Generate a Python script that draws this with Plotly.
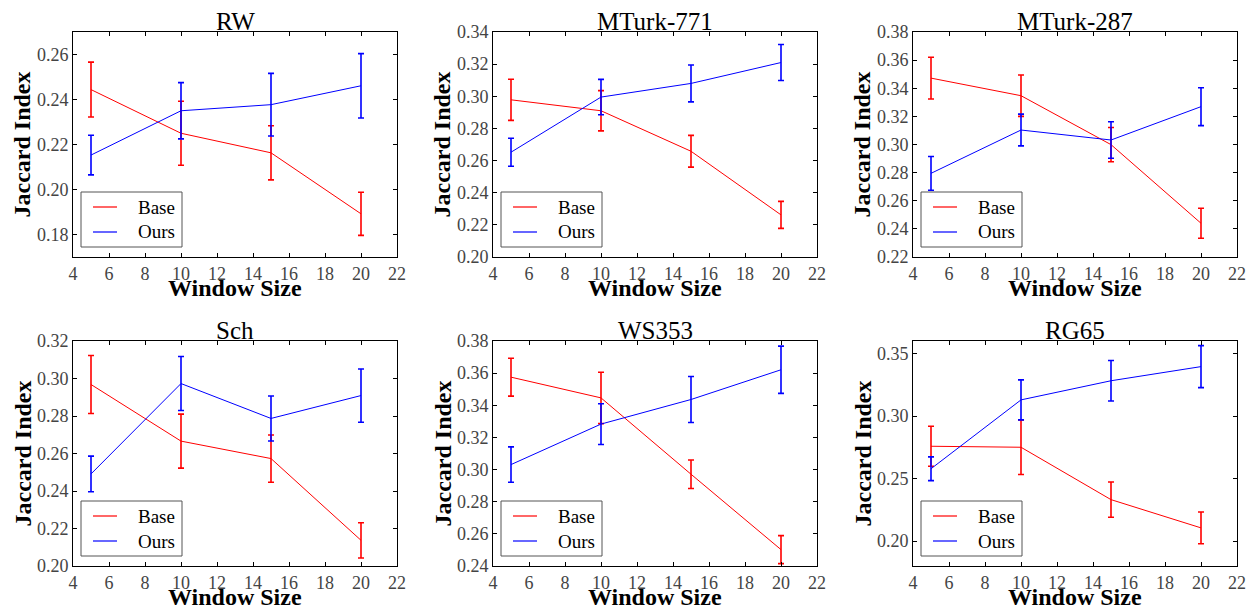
import plotly.graph_objects as go

# ---------------- data ----------------
window_sizes = [5, 10, 15, 20]

titles = ["RW", "MTurk-771", "MTurk-287", "Sch", "WS353", "RG65"]
series_names = ["Base", "Ours"]
series_colors = ["red", "blue"]

rw_base = [0.2444, 0.2250, 0.2163, 0.1892]
rw_base_err = [0.0122, 0.0142, 0.0120, 0.0096]
rw_ours = [0.2153, 0.2350, 0.2377, 0.2461]
rw_ours_err = [0.0088, 0.0125, 0.0139, 0.0143]

mt771_base = [0.2978, 0.2910, 0.2658, 0.2262]
mt771_base_err = [0.0128, 0.0125, 0.0099, 0.0084]
mt771_ours = [0.2652, 0.2995, 0.3080, 0.3210]
mt771_ours_err = [0.0087, 0.0110, 0.0115, 0.0112]

mt287_base = [0.3472, 0.3347, 0.2999, 0.2440]
mt287_base_err = [0.0148, 0.0147, 0.0122, 0.0107]
mt287_ours = [0.2795, 0.3103, 0.3032, 0.3269]
mt287_ours_err = [0.0120, 0.0113, 0.0130, 0.0135]

sch_base = [0.2968, 0.2666, 0.2573, 0.2137]
sch_base_err = [0.0155, 0.0144, 0.0126, 0.0094]
sch_ours = [0.2491, 0.2973, 0.2787, 0.2909]
sch_ours_err = [0.0095, 0.0144, 0.0120, 0.0142]

ws353_base = [0.3575, 0.3446, 0.2971, 0.2502]
ws353_base_err = [0.0118, 0.0160, 0.0089, 0.0087]
ws353_ours = [0.3031, 0.3283, 0.3436, 0.3621]
ws353_ours_err = [0.0110, 0.0127, 0.0143, 0.0147]

rg65_base = [0.2758, 0.2750, 0.2331, 0.2105]
rg65_base_err = [0.0160, 0.0218, 0.0141, 0.0127]
rg65_ours = [0.2578, 0.3129, 0.3282, 0.3395]
rg65_ours_err = [0.0095, 0.0160, 0.0162, 0.0168]

base_series = [rw_base, mt771_base, mt287_base, sch_base, ws353_base, rg65_base]
base_errs = [rw_base_err, mt771_base_err, mt287_base_err, sch_base_err, ws353_base_err, rg65_base_err]
ours_series = [rw_ours, mt771_ours, mt287_ours, sch_ours, ws353_ours, rg65_ours]
ours_errs = [rw_ours_err, mt771_ours_err, mt287_ours_err, sch_ours_err, ws353_ours_err, rg65_ours_err]

y_ranges = [[0.17, 0.27], [0.20, 0.34], [0.22, 0.38], [0.20, 0.32], [0.24, 0.38], [0.18, 0.36]]
y_dticks = [0.02, 0.02, 0.02, 0.02, 0.02, 0.05]

# ---------------- layout geometry (pixels) ----------------
W, H = 1249, 610
col_px = [(73, 397), (493, 817), (913, 1237)]
row_px = [(32, 257), (341, 566)]

FONT = "Liberation Serif, Times New Roman, serif"

fig = go.Figure()
layout = dict(
    template="none",
    width=W, height=H,
    margin=dict(l=0, r=0, t=0, b=0, pad=0, autoexpand=False),
    paper_bgcolor="white", plot_bgcolor="white",
    font=dict(family=FONT, color="black"),
    showlegend=False,
    annotations=[],
    shapes=[],
)


def px_x(v):
    return v / W


def px_y(v):
    return 1 - v / H


for i in range(6):
    r, c = divmod(i, 3)
    x0, x1 = col_px[c]
    y0, y1 = row_px[r]
    sfx = "" if i == 0 else str(i + 1)
    xa, ya = "x" + sfx, "y" + sfx

    for name, color, ys, errs in (
        (series_names[0], series_colors[0], base_series[i], base_errs[i]),
        (series_names[1], series_colors[1], ours_series[i], ours_errs[i]),
    ):
        fig.add_trace(go.Scatter(
            x=window_sizes, y=ys, mode="lines", name=name,
            line=dict(color=color, width=1),
            error_y=dict(type="data", array=errs, color=color, thickness=1.6, width=3),
            xaxis=xa, yaxis=ya,
        ))

    axis_common = dict(
        showline=True, linecolor="black", linewidth=1, mirror="allticks",
        ticks="inside", ticklen=4, tickcolor="black", tickwidth=1,
        showgrid=False, zeroline=False, automargin=False,
        tickfont=dict(family=FONT, size=18, color="#444444"),
    )
    layout["xaxis" + sfx] = dict(
        axis_common, domain=[px_x(x0), px_x(x1)], range=[4, 22], dtick=2, tick0=0,
        anchor=ya,
    )
    layout["yaxis" + sfx] = dict(
        axis_common, domain=[px_y(y1), px_y(y0)], range=y_ranges[i],
        dtick=y_dticks[i], tick0=0, tickformat=".2f", anchor=xa,
    )

    # legend box (lower-left inside each panel)
    layout["shapes"].append(dict(
        type="rect", xref="paper", yref="paper",
        x0=px_x(x0 + 8), x1=px_x(x0 + 109), y0=px_y(y1 - 10), y1=px_y(y1 - 65),
        line=dict(color="#555555", width=1), fillcolor="white", layer="above",
    ))
    for k in range(2):
        ly = y1 - 50 + 25 * k
        layout["shapes"].append(dict(
            type="line", xref="paper", yref="paper",
            x0=px_x(x0 + 20), x1=px_x(x0 + 44), y0=px_y(ly), y1=px_y(ly),
            line=dict(color=series_colors[k], width=1.2), layer="above",
        ))
        layout["annotations"].append(dict(
            text=series_names[k], x=px_x(x0 + 63), y=px_y(ly), xref="paper", yref="paper",
            xanchor="left", yanchor="middle", showarrow=False,
            font=dict(family=FONT, size=19, color="black"),
        ))

    cx = (x0 + x1) / 2
    cy = (y0 + y1) / 2
    layout["annotations"] += [
        dict(text=titles[i], x=px_x(cx), y=px_y(y0 - 11), xref="paper", yref="paper",
             xanchor="center", yanchor="middle", showarrow=False,
             font=dict(family=FONT, size=25, color="black")),
        dict(text="<b>Window Size</b>", x=px_x(cx), y=px_y(y1 + 31), xref="paper", yref="paper",
             xanchor="center", yanchor="middle", showarrow=False,
             font=dict(family=FONT, size=24, color="black")),
        dict(text="<b>Jaccard Index</b>", x=px_x(x0 - 51), y=px_y(cy), xref="paper", yref="paper",
             xanchor="center", yanchor="middle", showarrow=False, textangle=-90,
             font=dict(family=FONT, size=24, color="black")),
    ]

fig.update_layout(**layout)

post = (
    "document.body.style.margin='0px';"
    "document.body.style.overflow='hidden';"
)
fig.write_html("out.html", post_script=post, config={"displayModeBar": False})
